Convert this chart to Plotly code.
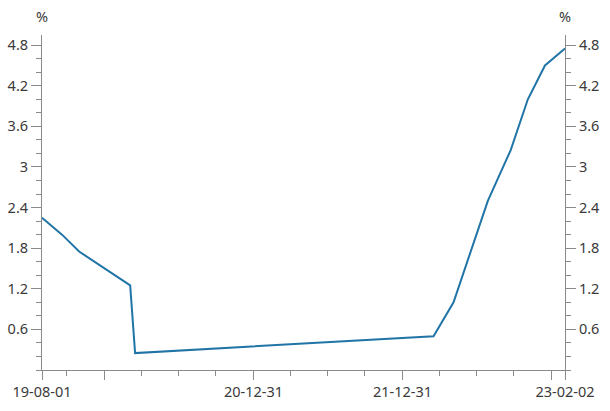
import plotly.graph_objects as go

# Data: upper bound of policy rate (%) at change dates
dates = ["2019-08-01", "2019-09-19", "2019-10-31", "2020-03-04", "2020-03-16",
         "2022-03-17", "2022-05-05", "2022-06-16", "2022-07-28", "2022-09-22",
         "2022-11-03", "2022-12-15", "2023-02-02"]
rates = [2.25, 2.00, 1.75, 1.25, 0.25,
         0.50, 1.00, 1.75, 2.50, 3.25,
         4.00, 4.50, 4.75]

y_tickvals = [0.6, 1.2, 1.8, 2.4, 3.0, 3.6, 4.2, 4.8]
y_ticktext = ["0.6", "1.2", "1.8", "2.4", "3", "3.6", "4.2", "4.8"]

x_tickvals = ["2019-08-01", "2019-12-31", "2020-12-31", "2021-12-31", "2022-12-31", "2023-02-02"]
x_ticktext = ["19-08-01", "", "20-12-31", "21-12-31", "", "23-02-02"]
x_minor = ["2019-09-30", "2020-03-31", "2020-06-30", "2020-09-30",
           "2021-03-31", "2021-06-30", "2021-09-30",
           "2022-03-31", "2022-06-30", "2022-09-30"]

axis_color = "#8a8a8a"
text_color = "#3a3a3a"
font = dict(family="Noto Sans, Open Sans, sans-serif", size=14.5, color=text_color)

fig = go.Figure()
fig.add_trace(go.Scatter(x=dates, y=rates, mode="lines",
                         line=dict(color="#2174a6", width=2), showlegend=False))
fig.add_trace(go.Scatter(x=dates, y=rates, mode="lines", yaxis="y2",
                         line=dict(color="rgba(0,0,0,0)", width=0),
                         showlegend=False, hoverinfo="skip"))

yax = dict(range=[0, 4.95], tickmode="array", tickvals=y_tickvals, ticktext=y_ticktext,
           ticks="outside", ticklen=10, tickcolor=axis_color, tickwidth=1,
           showline=True, linecolor=axis_color, linewidth=1,
           showgrid=False, zeroline=False, tickfont=font, automargin=False,
           minor=dict(tickmode="linear", tick0=0, dtick=0.2, ticks="outside",
                      ticklen=5, tickcolor=axis_color, tickwidth=1, showgrid=False))

fig.update_layout(
    width=610, height=411,
    margin=dict(l=42, r=45, t=35, b=41),
    paper_bgcolor="white", plot_bgcolor="white",
    font=font,
    xaxis=dict(type="date", range=["2019-08-01", "2023-02-02"],
               tickmode="array", tickvals=x_tickvals, ticktext=x_ticktext,
               ticks="outside", ticklen=9, tickcolor=axis_color, tickwidth=1,
               showline=True, linecolor=axis_color, linewidth=1,
               showgrid=False, zeroline=False, tickfont=font, automargin=False,
               minor=dict(tickmode="array", tickvals=x_minor, ticks="outside",
                          ticklen=5, tickcolor=axis_color, tickwidth=1, showgrid=False)),
    yaxis=dict(side="left", **yax),
    yaxis2=dict(side="right", overlaying="y", **yax),
    annotations=[
        dict(text="%", xref="paper", yref="paper", x=0, y=1, yshift=19,
             showarrow=False, xanchor="center", yanchor="middle", font=font),
        dict(text="%", xref="paper", yref="paper", x=1, y=1, yshift=19,
             showarrow=False, xanchor="center", yanchor="middle", font=font),
    ],
)

fig.write_html("out.html",
               config={"displayModeBar": False},
               post_script="document.body.style.margin='0';document.body.style.overflow='hidden';")
